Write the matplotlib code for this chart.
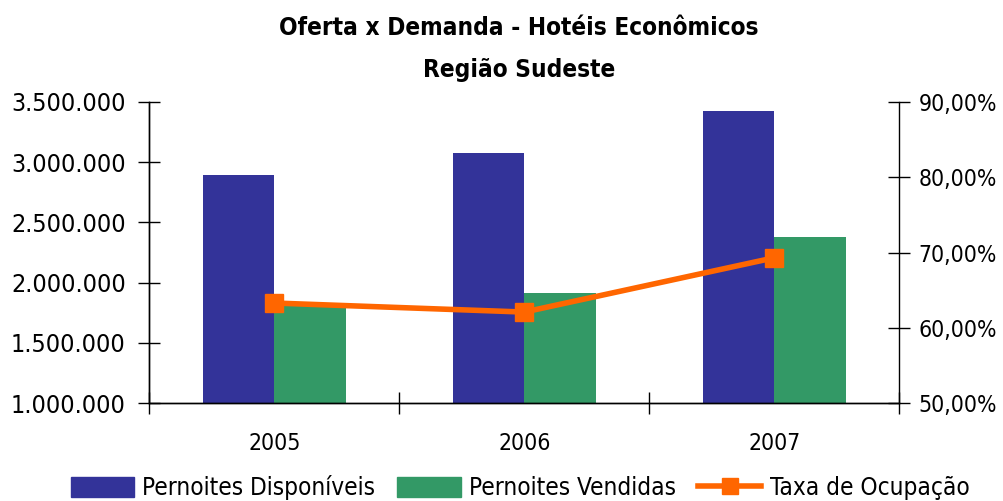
import matplotlib
matplotlib.use('Agg')
import matplotlib.pyplot as plt
from matplotlib.ticker import FuncFormatter, FixedLocator
from matplotlib.lines import Line2D
from matplotlib.patches import Patch
import numpy as np

# data
anos = ['2005', '2006', '2007']
disponiveis = [2890000, 3075000, 3420000]
vendidas = [1830000, 1912000, 2378000]
taxa = [63.3, 62.1, 69.3]

azul = '#333399'
verde = '#339966'
laranja = '#FF6600'

plt.rcParams['font.family'] = ['DejaVu Sans']
plt.rcParams['font.stretch'] = 'condensed'

fig = plt.figure(figsize=(10.04, 5.01), dpi=100)
ax = fig.add_axes([0.1487, 0.195, 0.747, 0.602])
ax2 = ax.twinx()

x = np.arange(len(anos))
w = 0.286
ax.bar(x - w / 2, disponiveis, w, color=azul, zorder=2)
ax.bar(x + w / 2, vendidas, w, color=verde, zorder=2)

ax2.plot(x, taxa, color=laranja, lw=4, marker='s', ms=13,
         solid_joinstyle='miter', zorder=3)

ax.set_xlim(-0.5, 2.5)
ax.set_ylim(1000000, 3500000)
ax2.set_ylim(50, 90)

ax.yaxis.set_major_locator(FixedLocator(np.arange(1000000, 3500001, 500000)))
ax.yaxis.set_major_formatter(FuncFormatter(lambda v, p: f'{v:,.0f}'.replace(',', '.')))
ax2.yaxis.set_major_locator(FixedLocator(np.arange(50, 91, 10)))
ax2.yaxis.set_major_formatter(FuncFormatter(lambda v, p: f'{v:.2f}%'.replace('.', ',')))

ax.set_xticks([-0.5, 0.5, 1.5, 2.5])
ax.set_xticklabels([])
ax.set_xticks(x, minor=True)
ax.set_xticklabels(anos, minor=True)
ax.tick_params(axis='x', which='major', direction='inout', length=16, width=1, color='black')
ax.tick_params(axis='x', which='minor', length=0, pad=21, labelsize=16.5)
ax.tick_params(axis='y', direction='inout', length=16, width=1, pad=9, labelsize=18)
ax2.tick_params(axis='y', direction='inout', length=16, width=1, pad=6, labelsize=16.5)

for a in (ax, ax2):
    a.spines['top'].set_visible(False)
    for s in ('left', 'right', 'bottom'):
        a.spines[s].set_color('black')
        a.spines[s].set_linewidth(1)
ax.spines['right'].set_visible(False)

fig.text(0.517, 0.944, 'Oferta x Demanda - Hotéis Econômicos', ha='center', va='center',
         fontsize=17.5, fontweight='bold')
fig.text(0.517, 0.860, 'Região Sudeste', ha='center', va='center',
         fontsize=17.5, fontweight='bold')

handles = [Patch(color=azul), Patch(color=verde),
           Line2D([], [], color=laranja, lw=4, marker='s', ms=11)]
labels = ['Pernoites Disponíveis', 'Pernoites Vendidas', 'Taxa de Ocupação']
fig.legend(handles, labels, loc='center', bbox_to_anchor=(0.518, 0.027), ncol=3,
           frameon=False, fontsize=17.5, handlelength=2.6, handleheight=0.9,
           handletextpad=0.35, columnspacing=0.9, borderpad=0)

fig.savefig('out.png', dpi=100, facecolor='white')
